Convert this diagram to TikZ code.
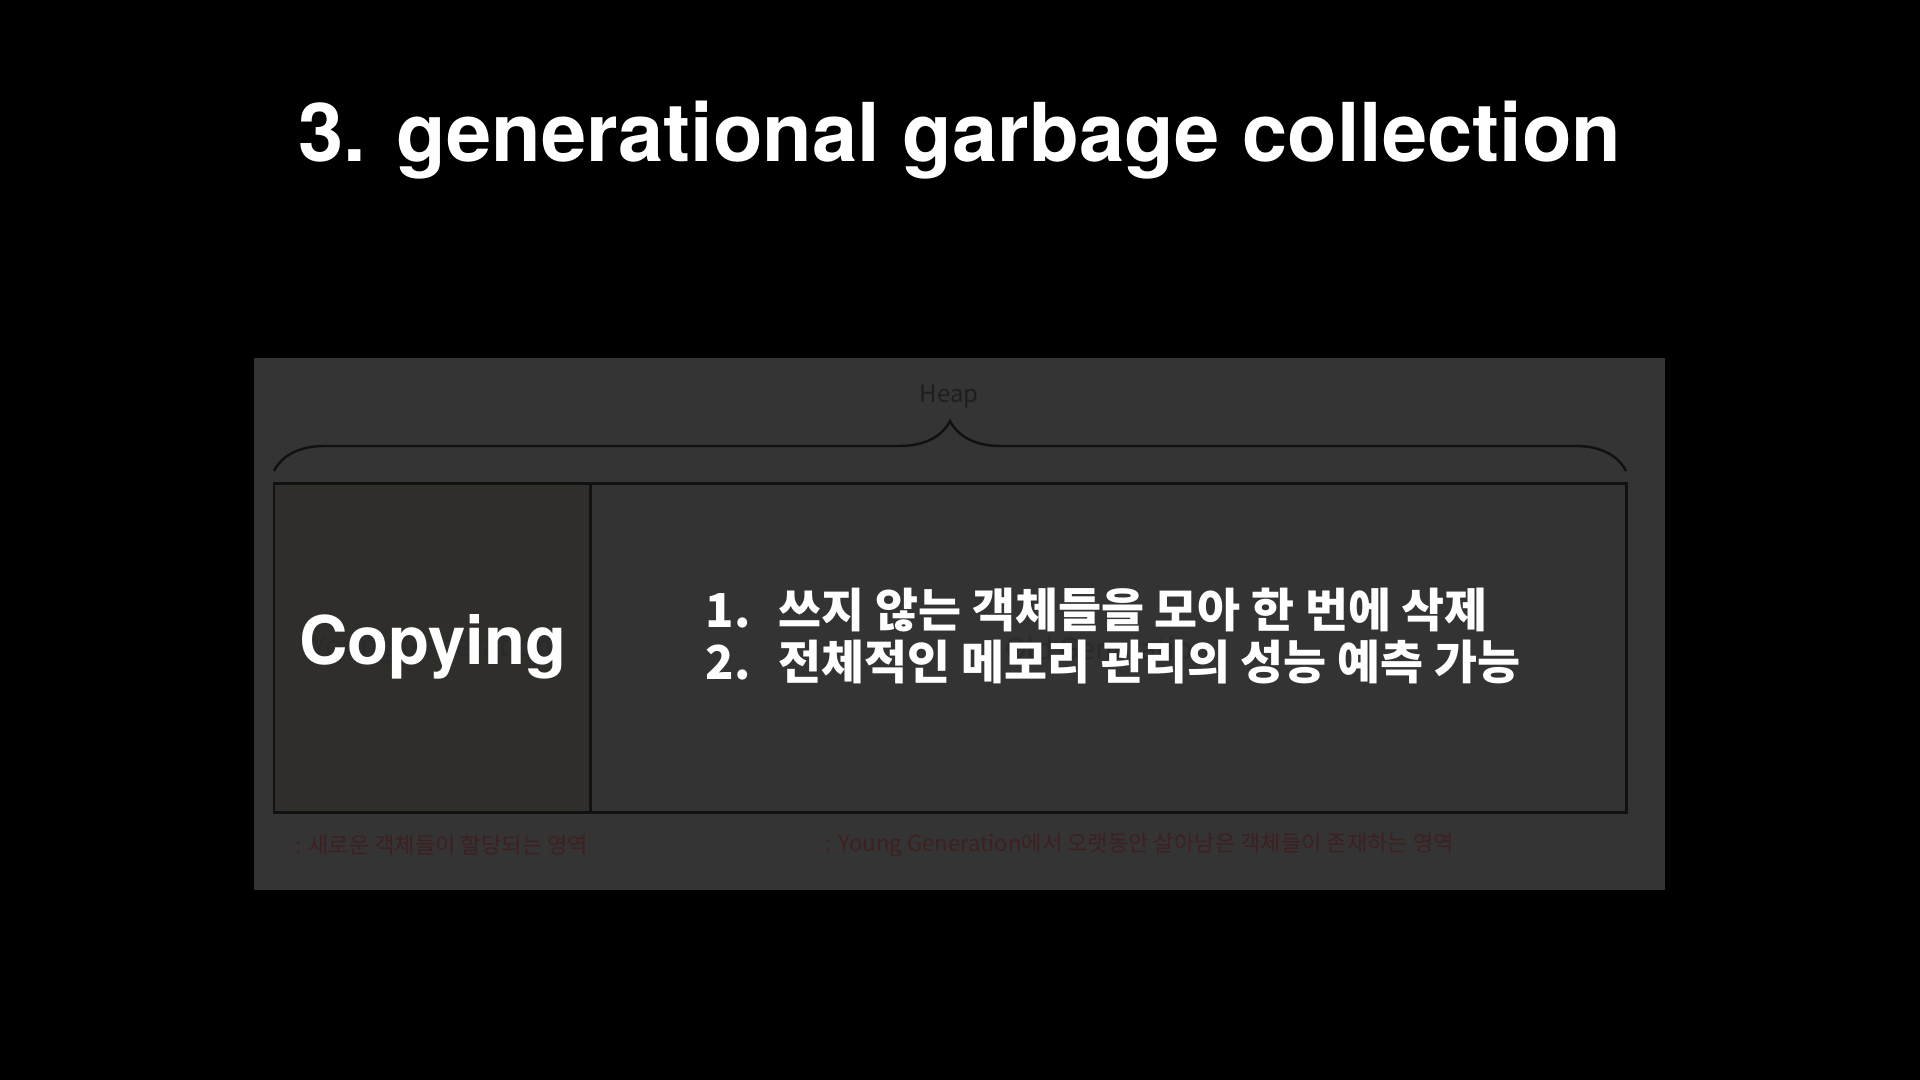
\documentclass[tikz,border=0pt]{standalone}
\usepackage{fontspec}
\setmainfont{TeX Gyre Heros}
\newfontfamily\krfont{Noto Sans CJK KR}
\usetikzlibrary{calc}
\usetikzlibrary{decorations.pathreplacing}
\usepackage{xcolor}
\definecolor{panelgray}{RGB}{52,52,52}
\definecolor{younggray}{RGB}{48,46,42}
\definecolor{oldgray}{RGB}{51,51,51}
\definecolor{lineblack}{RGB}{17,17,17}
\definecolor{fadegray}{RGB}{42,42,42}
\definecolor{heapgray}{RGB}{30,30,30}
\definecolor{capred}{RGB}{62,32,32}

\begin{document}
\begin{tikzpicture}[
 region/.style={draw=lineblack, line width=0.85pt, minimum height=3.29cm, inner sep=0,
   text=fadegray, font=\krfont\fontsize{8.3}{10}\selectfont},
 caption/.style={anchor=west, text=capred, inner sep=0, font=\krfont\fontsize{6.3}{7.5}\selectfont},
 item/.style={anchor=west, text=white, inner sep=0, font=\krfont\bfseries\fontsize{13.3}{16}\selectfont}
]
\fill[black] (0,0) rectangle (19.2,10.8);
\useasboundingbox (0,0) rectangle (19.2,10.8);
\node[anchor=base, text=white, font=\fontsize{23.1}{28}\selectfont\bfseries] (title) at (9.6,9.18) {3. generational garbage collection};
% heap panel
\fill[panelgray] (2.535,1.90) rectangle (16.65,7.22);
\node[region, fill=younggray, minimum width=3.16cm] (young) at (4.32,4.315) {Young Generation};
\node[region, fill=oldgray, minimum width=10.36cm] (old) at (11.08,4.315) {Old Generation};
\coordinate (bl) at (2.74,6.09);
\coordinate (br) at (16.26,6.09);
\draw[lineblack, line width=0.7pt, decorate, decoration={brace, amplitude=0.5cm}] (bl) -- (br);
\node[text=heapgray, inner sep=0, font=\krfont\fontsize{6.8}{8}\selectfont] (heap) at (9.49,6.84) {Heap};
\node[caption] (capyoung) at (2.95,2.35) {: 새로운 객체들이 할당되는 영역};
\node[caption] (capold) at (8.25,2.35) {: Young Generation에서 오랫동안 살아남은 객체들이 존재하는 영역};
% overlay text
\node[anchor=base, text=white, inner sep=0, font=\fontsize{19.1}{24}\selectfont\bfseries] (copy) at (4.33,4.15) {Copying};
\foreach \n/\txt [evaluate=\n as \yy using 5.22-0.52*\n] in {1/{쓰지 않는 객체들을 모아 한 번에 삭제}, 2/{전체적인 메모리 관리의 성능 예측 가능}} {
 \node[item] (item\n) at (7.05,\yy) {\makebox[0.73cm][l]{\n.}\txt};
}
\end{tikzpicture}
\end{document}
